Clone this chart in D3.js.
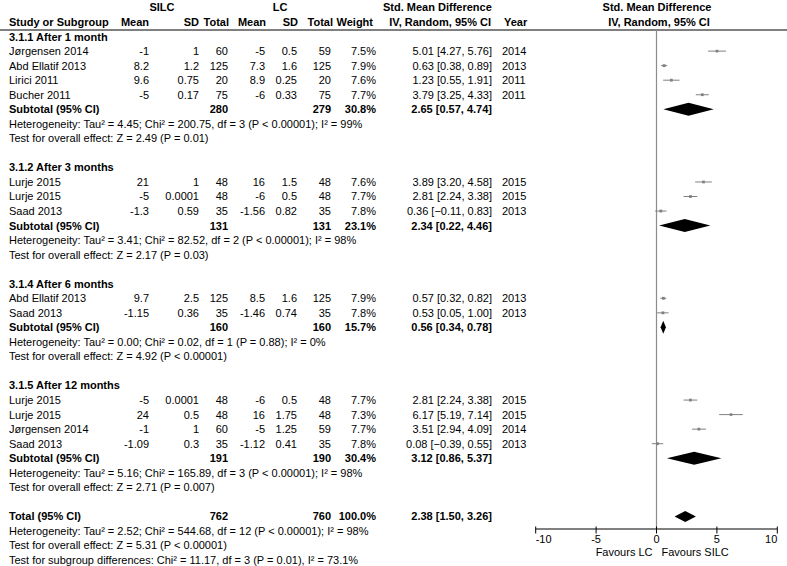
<!DOCTYPE html>
<html><head><meta charset="utf-8">
<script src="https://cdn.jsdelivr.net/npm/d3@7"></script>
<style>
body{margin:0;background:#fff;}
svg text{font-family:"Liberation Sans",Arial,sans-serif;font-size:11px;fill:#000;}
</style></head><body>
<svg id="c" width="787" height="566"></svg>
<script>
const groupLabels = ["3.1.1 After 1 month","3.1.2 After 3 months","3.1.4 After 6 months","3.1.5 After 12 months"];
const studyNames = ["Jørgensen 2014","Abd Ellatif 2013","Lirici 2011","Bucher 2011","Lurje 2015","Lurje 2015","Saad 2013","Abd Ellatif 2013","Saad 2013","Lurje 2015","Lurje 2015","Jørgensen 2014","Saad 2013"];
const studyGroup = [0,0,0,0,1,1,1,2,2,3,3,3,3];
const silcMean = [-1,8.2,9.6,-5,21,-5,-1.3,9.7,-1.15,-5,24,-1,-1.09];
const silcSD = [1,1.2,0.75,0.17,1,0.0001,0.59,2.5,0.36,0.0001,0.5,1,0.3];
const silcN = [60,125,20,75,48,48,35,125,35,48,48,60,35];
const lcMean = [-5,7.3,8.9,-6,16,-6,-1.56,8.5,-1.46,-6,16,-5,-1.12];
const lcSD = [0.5,1.6,0.25,0.33,1.5,0.5,0.82,1.6,0.74,0.5,1.75,1.25,0.41];
const lcN = [59,125,20,75,48,48,35,125,35,48,48,59,35];
const weights = [7.5,7.9,7.6,7.7,7.6,7.7,7.8,7.9,7.8,7.7,7.3,7.7,7.8];
const smd = [5.01,0.63,1.23,3.79,3.89,2.81,0.36,0.57,0.53,2.81,6.17,3.51,0.08];
const ciLow = [4.27,0.38,0.55,3.25,3.20,2.24,-0.11,0.32,0.05,2.24,5.19,2.94,-0.39];
const ciHigh = [5.76,0.89,1.91,4.33,4.58,3.38,0.83,0.82,1.00,3.38,7.14,4.09,0.55];
const years = [2014,2013,2011,2011,2015,2015,2013,2013,2013,2015,2015,2014,2013];

const subSilcN = [280,131,160,191];
const subLcN = [279,131,160,190];
const subWeight = [30.8,23.1,15.7,30.4];
const subSmd = [2.65,2.34,0.56,3.12];
const subLow = [0.57,0.22,0.34,0.86];
const subHigh = [4.74,4.46,0.78,5.37];
const subHet = [
 "Heterogeneity: Tau² = 4.45; Chi² = 200.75, df = 3 (P < 0.00001); I² = 99%",
 "Heterogeneity: Tau² = 3.41; Chi² = 82.52, df = 2 (P < 0.00001); I² = 98%",
 "Heterogeneity: Tau² = 0.00; Chi² = 0.02, df = 1 (P = 0.88); I² = 0%",
 "Heterogeneity: Tau² = 5.16; Chi² = 165.89, df = 3 (P < 0.00001); I² = 98%"];
const subTest = [
 "Test for overall effect: Z = 2.49 (P = 0.01)",
 "Test for overall effect: Z = 2.17 (P = 0.03)",
 "Test for overall effect: Z = 4.92 (P < 0.00001)",
 "Test for overall effect: Z = 2.71 (P = 0.007)"];

const totalSilcN = 762, totalLcN = 760, totalWeight = 100.0;
const totalSmd = 2.38, totalLow = 1.50, totalHigh = 3.26;
const totalNotes = [
 "Heterogeneity: Tau² = 2.52; Chi² = 544.68, df = 12 (P < 0.00001); I² = 98%",
 "Test for overall effect: Z = 5.31 (P < 0.00001)",
 "Test for subgroup differences: Chi² = 11.17, df = 3 (P = 0.01), I² = 73.1%"];

const axisTicks = [-10,-5,0,5,10];
const favourLeft = "Favours LC", favourRight = "Favours SILC";

// ---- build row layout ----
const rows = [];
let slot = 2;
groupLabels.forEach((g, gi) => {
  rows.push({type:"group", slot:slot++, label:g});
  studyNames.forEach((n, i) => {
    if (studyGroup[i] === gi) rows.push({type:"study", slot:slot++, i});
  });
  rows.push({type:"subtotal", slot:slot++, gi});
  rows.push({type:"note", slot:slot++, label:subHet[gi]});
  rows.push({type:"note", slot:slot++, label:subTest[gi]});
  slot++;
});
rows.push({type:"total", slot:slot++});
totalNotes.forEach(t => rows.push({type:"note", slot:slot++, label:t}));

const y = d3.scaleLinear().domain([0, 38]).range([7.5, 560]);
const x = d3.scaleLinear().domain([-10, 10]).range([535.7, 777.3]);

const svg = d3.select("#c");
const f2 = d3.format(".2f"), f1 = d3.format(".1f");
const ciText = (m,l,h) => `${f2(m)} [${f2(l)}, ${f2(h)}]`;

const col = {name:9, m1:149, sd1:199, n1:228, m2:265, sd2:297, n2:331, w:376, ci:492, yr:502};

function txt(xp, yp, s, anchor, bold) {
  svg.append("text").attr("x", xp).attr("y", yp).attr("dy", "0.36em")
    .attr("text-anchor", anchor || "start")
    .attr("font-weight", bold ? "bold" : "normal")
    .text(s);
}

// headers
txt(162, y(0), "SILC", "middle", true);
txt(280, y(0), "LC", "middle", true);
txt(383, y(0), "Std. Mean Difference", "start", true);
txt(657, y(0), "Std. Mean Difference", "middle", true);
txt(col.name, y(1), "Study or Subgroup", "start", true);
txt(col.m1, y(1), "Mean", "end", true);
txt(col.sd1, y(1), "SD", "end", true);
txt(col.n1+1, y(1), "Total", "end", true);
txt(col.m2+1, y(1), "Mean", "end", true);
txt(col.sd2+1, y(1), "SD", "end", true);
txt(col.n2+2, y(1), "Total", "end", true);
txt(373, y(1), "Weight", "end", true);
txt(col.ci-1, y(1), "IV, Random, 95% CI", "end", true);
txt(504, y(1), "Year", "start", true);
txt(659, y(1), "IV, Random, 95% CI", "middle", true);

svg.append("line").attr("x1",0).attr("x2",787).attr("y1",30).attr("y2",30)
  .attr("stroke","#000").attr("stroke-width",1);

// zero line
const axisY = 529;
svg.append("line").attr("x1",x(0)).attr("x2",x(0)).attr("y1",30).attr("y2",axisY)
  .attr("stroke","#8c8c8c").attr("stroke-width",1.2);

rows.forEach(r => {
  const yy = y(r.slot);
  if (r.type === "group") txt(col.name, yy, r.label, "start", true);
  else if (r.type === "note") txt(col.name, yy, r.label, "start", false);
  else if (r.type === "study") {
    const i = r.i;
    txt(col.name, yy, studyNames[i]);
    txt(col.m1, yy, String(silcMean[i]), "end");
    txt(col.sd1, yy, String(silcSD[i]), "end");
    txt(col.n1, yy, String(silcN[i]), "end");
    txt(col.m2, yy, String(lcMean[i]), "end");
    txt(col.sd2, yy, String(lcSD[i]), "end");
    txt(col.n2, yy, String(lcN[i]), "end");
    txt(col.w, yy, f1(weights[i]) + "%", "end");
    txt(col.ci, yy, ciText(smd[i], ciLow[i], ciHigh[i]), "end");
    txt(col.yr, yy, String(years[i]));
    svg.append("line").attr("x1", x(ciLow[i])).attr("x2", x(ciHigh[i]))
      .attr("y1", yy).attr("y2", yy).attr("stroke", "#808080").attr("stroke-width", 1);
    const s = weights[i] * 0.36;
    svg.append("rect").attr("x", x(smd[i]) - s/2).attr("y", yy - s/2)
      .attr("width", s).attr("height", s).attr("fill", "#808080");
  } else if (r.type === "subtotal" || r.type === "total") {
    const isT = r.type === "total";
    const gi = r.gi;
    const n1 = isT ? totalSilcN : subSilcN[gi], n2 = isT ? totalLcN : subLcN[gi];
    const w = isT ? totalWeight : subWeight[gi];
    const m = isT ? totalSmd : subSmd[gi], lo = isT ? totalLow : subLow[gi], hi = isT ? totalHigh : subHigh[gi];
    txt(col.name, yy, isT ? "Total (95% CI)" : "Subtotal (95% CI)", "start", true);
    txt(col.n1, yy, String(n1), "end", true);
    txt(col.n2, yy, String(n2), "end", true);
    txt(col.w, yy, f1(w) + "%", "end", true);
    txt(col.ci, yy, ciText(m, lo, hi), "end", true);
    const h = isT ? 5.5 : 6.5;
    svg.append("path")
      .attr("d", `M${x(lo)},${yy}L${x(m)},${yy-h}L${x(hi)},${yy}L${x(m)},${yy+h}Z`)
      .attr("fill", "#000");
  }
});

// axis
const ax = svg.append("g");
ax.append("line").attr("x1", x(-10)).attr("x2", x(10)).attr("y1", axisY).attr("y2", axisY)
  .attr("stroke", "#000").attr("stroke-width", 1);
axisTicks.forEach((t, k) => {
  ax.append("line").attr("x1", x(t)).attr("x2", x(t)).attr("y1", axisY - 2.5).attr("y2", axisY + 4.5)
    .attr("stroke", "#000").attr("stroke-width", 1);
  const anchor = k === 0 ? "start" : (k === axisTicks.length - 1 ? "end" : "middle");
  svg.append("text").attr("x", x(t)).attr("y", 539).attr("dy", "0.36em")
    .attr("text-anchor", anchor).attr("font-size", "12px").text(String(t));
});
svg.append("text").attr("x", x(0) - 4).attr("y", 552.5).attr("dy", "0.36em")
  .attr("text-anchor", "end").attr("font-size", "11.5px").text(favourLeft);
svg.append("text").attr("x", x(0) + 5).attr("y", 552.5).attr("dy", "0.36em")
  .attr("text-anchor", "start").attr("font-size", "11.5px").text(favourRight);
</script></body></html>
